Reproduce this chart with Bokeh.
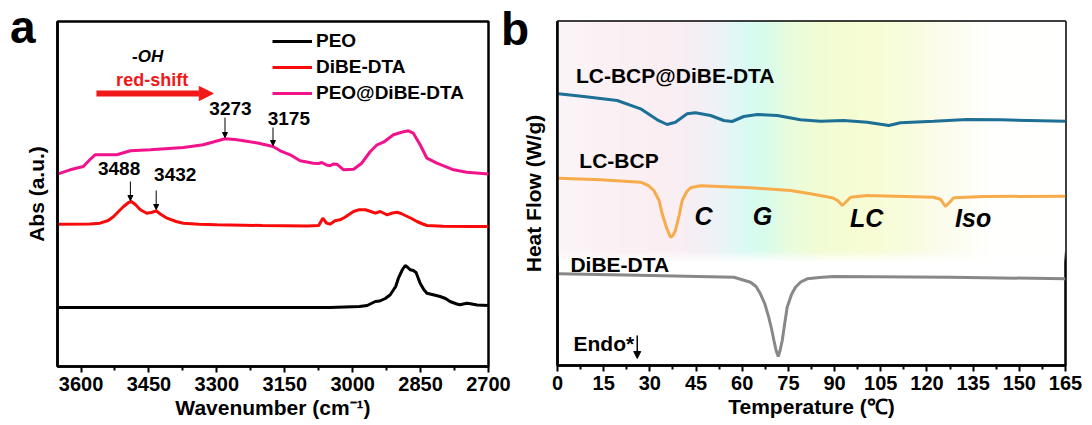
import numpy as np
from bokeh.plotting import figure
from bokeh.models import (Range1d, FixedTicker, Legend, LegendItem, Div,
                          Arrow, NormalHead)
from bokeh.layouts import row
from bokeh.embed import file_html
from bokeh.resources import INLINE
from bokeh.core.properties import value

FONT = "Liberation Sans"

# ---------------- Panel a : FTIR ----------------
peo_wn = [3650, 3400, 3200, 3050, 2985, 2968, 2950, 2940, 2928, 2917, 2905, 2899, 2890,
          2884, 2878, 2873, 2866, 2860, 2851, 2843, 2836, 2820, 2807, 2795, 2785, 2770,
          2763, 2748, 2740, 2725, 2700]
peo_abs = [0.59, 0.59, 0.59, 0.59, 0.60, 0.61, 0.65, 0.655, 0.68, 0.717, 0.80, 0.883, 0.97,
           1.01, 0.99, 0.967, 0.96, 0.94, 0.833, 0.77, 0.733, 0.715, 0.70, 0.68, 0.65, 0.625,
           0.617, 0.633, 0.627, 0.615, 0.61]

dibe_wn = [3650, 3580, 3558, 3540, 3528, 3515, 3506, 3495, 3489, 3480, 3469, 3455, 3445,
           3434, 3425, 3410, 3390, 3374, 3340, 3300, 3200, 3100, 3075, 3066, 3058, 3050,
           3039, 3028, 3018, 3009, 2998, 2987, 2972, 2960, 2950, 2939, 2930, 2924, 2912,
           2902, 2893, 2884, 2870, 2858, 2845, 2836, 2800, 2740, 2700]
dibe_abs = [1.423, 1.425, 1.433, 1.46, 1.50, 1.56, 1.60, 1.64, 1.65, 1.62, 1.567, 1.533, 1.54,
            1.557, 1.525, 1.483, 1.45, 1.433, 1.422, 1.417, 1.41, 1.405, 1.41, 1.483, 1.435,
            1.423, 1.457, 1.467, 1.49, 1.517, 1.55, 1.567, 1.567, 1.55, 1.533, 1.55, 1.53,
            1.517, 1.535, 1.543, 1.53, 1.51, 1.48, 1.45, 1.425, 1.41, 1.403, 1.40, 1.40]

mix_wn = [3650, 3646, 3624, 3595, 3580, 3569, 3543, 3521, 3491, 3447, 3374, 3330, 3300,
          3282, 3260, 3241, 3210, 3176, 3160, 3138, 3116, 3087, 3075, 3068, 3058, 3050,
          3043, 3035, 3020, 2998, 2980, 2961, 2946, 2932, 2910, 2890, 2877, 2866, 2851,
          2836, 2814, 2777, 2748, 2700]
mix_abs = [1.93, 1.933, 1.967, 2.00, 2.07, 2.117, 2.117, 2.117, 2.157, 2.167, 2.19, 2.217,
           2.255, 2.277, 2.27, 2.257, 2.235, 2.20, 2.157, 2.117, 2.057, 2.033, 2.03, 2.04,
           2.015, 2.007, 2.025, 2.023, 1.967, 1.973, 2.033, 2.15, 2.217, 2.243, 2.317,
           2.345, 2.357, 2.333, 2.217, 2.083, 2.033, 1.967, 1.943, 1.925]

wn_ticks = [3600, 3450, 3300, 3150, 3000, 2850, 2700]
wn_minor = [3525, 3375, 3225, 3075, 2925, 2775]

peak_labels = ["3488", "3432", "3273", "3175"]
peak_label_x = [3516, 3392, 3270, 3141]
peak_label_y = [1.983, 1.917, 2.58, 2.48]
peak_arrow_x = [3491, 3434, 3282, 3176]
peak_arrow_top = [1.85, 1.76, 2.49, 2.39]
peak_arrow_bot = [1.66, 1.57, 2.29, 2.21]

# ---------------- Panel b : DSC ----------------
blend_T = [0.3, 8.5, 19.4, 27, 32.4, 35.6, 38.3, 42.1, 44.8, 49.7, 54, 56.7, 60.5, 64.9,
           71.4, 78.9, 85.4, 93, 100.6, 107.6, 111.4, 122.2, 133, 143.9, 165]
blend_hf = [2.717, 2.69, 2.65, 2.567, 2.457, 2.41, 2.433, 2.517, 2.527, 2.50, 2.45, 2.44,
            2.49, 2.51, 2.50, 2.457, 2.443, 2.45, 2.433, 2.40, 2.427, 2.443, 2.46, 2.457, 2.443]

lcbcp_T = [0.3, 14, 27, 29.5, 31.3, 33, 34, 35.5, 36.7, 37.5, 38.3, 39.5, 40.5, 42, 43.2,
           46.4, 62.7, 75.7, 82.2, 87, 89.5, 91, 92.5, 93.5, 95.2, 100.6, 122.2, 124.5, 126,
           127.3, 128.7, 138.5, 165]
lcbcp_hf = [1.873, 1.857, 1.833, 1.80, 1.75, 1.65, 1.517, 1.37, 1.283, 1.30, 1.35, 1.50,
            1.65, 1.74, 1.777, 1.797, 1.777, 1.75, 1.717, 1.69, 1.675, 1.65, 1.60, 1.63,
            1.683, 1.70, 1.683, 1.66, 1.59, 1.63, 1.677, 1.69, 1.693]

dibe_T = [0.4, 30.2, 57.3, 62.7, 64.5, 65.9, 67.3, 68.6, 69.5, 70.3, 71, 71.7, 72.3, 73,
          73.8, 74.6, 76, 77.3, 79, 81.1, 85, 89.7, 127.6, 165]
dibe_hf = [0.917, 0.90, 0.883, 0.833, 0.79, 0.717, 0.62, 0.483, 0.37, 0.25, 0.15, 0.09,
           0.15, 0.25, 0.42, 0.583, 0.71, 0.783, 0.835, 0.867, 0.88, 0.89, 0.883, 0.867]

T_ticks = list(range(0, 166, 15))
T_minor = [7.5 + 15 * i for i in range(11)]

phase_labels = ["C", "G", "LC", "Iso"]
phase_x = [47.4, 66.6, 100.4, 135.0]
phase_y = [1.50, 1.50, 1.48, 1.48]

curve_names = ["LC-BCP@DiBE-DTA", "LC-BCP", "DiBE-DTA", "Endo*"]
curve_name_x = [6.0, 7.1, 4.2, 5.2]
curve_name_y = [2.90, 2.05, 1.01, 0.22]

panel_letters = ["a", "b"]

# background gradient colour stops (decoration)
grad_T = [0, 20, 38, 48, 56, 62, 68, 75, 85, 100, 115, 128, 140, 165]
grad_rgb = [(252, 245, 247), (251, 240, 244), (250, 238, 243), (243, 240, 246),
            (230, 246, 247), (216, 251, 243), (218, 252, 236), (232, 252, 222),
            (242, 252, 212), (247, 252, 212), (249, 252, 224), (252, 253, 240),
            (255, 255, 253), (255, 255, 255)]


def style(p, xlabel, ylabel, ylabel_standoff):
    p.grid.visible = False
    p.outline_line_color = "black"
    p.outline_line_width = 2.5
    p.outline_line_alpha = 1
    p.border_fill_color = None
    for ax in p.xaxis:
        ax.axis_line_width = 2.5
        ax.major_tick_line_width = 2
        ax.minor_tick_line_width = 2
        ax.major_tick_out = 6
        ax.major_tick_in = 0
        ax.minor_tick_out = 4
        ax.minor_tick_in = 0
        ax.major_label_text_font = FONT
        ax.major_label_text_font_size = "20px"
        ax.major_label_text_font_style = "bold"
        ax.major_label_text_color = "black"
        ax.major_label_standoff = 4
        ax.axis_label = xlabel
        ax.axis_label_text_font = FONT
        ax.axis_label_text_font_size = "21px"
        ax.axis_label_text_font_style = "bold"
        ax.axis_label_text_color = "black"
        ax.axis_label_standoff = 2
    for ax in p.yaxis:
        ax.ticker = FixedTicker(ticks=[])
        ax.axis_line_width = 2.5
        ax.major_tick_out = 0
        ax.minor_tick_out = 0
        ax.major_label_text_font_size = "0px"
        ax.axis_label = ylabel
        ax.axis_label_text_font = FONT
        ax.axis_label_text_font_size = "21px"
        ax.axis_label_text_font_style = "bold"
        ax.axis_label_text_color = "black"
        ax.axis_label_standoff = ylabel_standoff


def letter_div(txt, left, top):
    html = ('<div style="font-family:\'Liberation Sans\',Arial,sans-serif;'
            'font-weight:bold;font-size:46px;line-height:46px;color:black;'
            'margin:0;padding:0;">%s</div>' % txt)
    return Div(text=html, width=40, height=60,
               margin=(top, -(40 + left), 0, left))


# ---------- figure a ----------
pa = figure(frame_width=431, frame_height=345, output_backend="svg", toolbar_location=None,
            x_range=Range1d(3652, 2700), y_range=Range1d(0, 3.45),
            min_border_left=57, min_border_right=24, min_border_top=20, min_border_bottom=60,
            margin=(0, -12, 0, 0))
style(pa, "Wavenumber (cm\u207b\u00b9)", "Abs (a.u.)", 10)
pa.xaxis.ticker = FixedTicker(ticks=wn_ticks, minor_ticks=wn_minor)

r_peo = pa.line(peo_wn, peo_abs, line_color="black", line_width=3)
r_dibe = pa.line(dibe_wn, dibe_abs, line_color="#f80a0a", line_width=3)
r_mix = pa.line(mix_wn, mix_abs, line_color="#f2128c", line_width=3)

leg = Legend(items=[LegendItem(label="PEO", renderers=[r_peo]),
                    LegendItem(label="DiBE-DTA", renderers=[r_dibe]),
                    LegendItem(label="PEO@DiBE-DTA", renderers=[r_mix])],
             location=(215, 260), padding=0, margin=0, spacing=0,
             glyph_width=40, glyph_height=26, label_height=26, label_standoff=4,
             border_line_color=None, background_fill_alpha=0,
             label_text_font=FONT, label_text_font_size="19px",
             label_text_font_style="bold", label_text_color="black")
pa.add_layout(leg)

pa.text(x=peak_label_x, y=peak_label_y, text=peak_labels, text_font=value(FONT),
        text_font_size="19px", text_font_style="bold", text_color="black",
        text_align="center", text_baseline="middle")
for xa, yt, yb in zip(peak_arrow_x, peak_arrow_top, peak_arrow_bot):
    pa.add_layout(Arrow(end=NormalHead(size=5, fill_color="black", line_color="black"),
                        x_start=xa, y_start=yt, x_end=xa, y_end=yb,
                        line_color="black", line_width=1))

pa.text(x=[3453], y=[3.10], text=["-OH"], text_font=value(FONT), text_font_size="17px",
        text_font_style="bold italic", text_color="black", text_align="center",
        text_baseline="middle")
pa.text(x=[3443], y=[2.87], text=["red-shift"], text_font=value(FONT),
        text_font_size="18px", text_font_style="bold", text_color="#f01818",
        text_align="center", text_baseline="middle")
pa.add_layout(Arrow(end=NormalHead(size=14, fill_color="#f01818", line_color="#f01818"),
                    x_start=3566, y_start=2.73, x_end=3308, y_end=2.73,
                    line_color="#f01818", line_width=6))

# ---------- figure b ----------
pb = figure(frame_width=508, frame_height=344, output_backend="svg", toolbar_location=None,
            x_range=Range1d(0, 165), y_range=Range1d(0, 3.44),
            min_border_left=57, min_border_right=27, min_border_top=21, min_border_bottom=60)
style(pb, "Temperature (\u2103)", "Heat Flow (W/g)", 13)
pb.xaxis.ticker = FixedTicker(ticks=T_ticks, minor_ticks=T_minor)

# gradient background
nx, ny = 330, 120
y0, y1 = 1.02, 3.44
xs = np.linspace(0, 165, nx)
img = np.empty((ny, nx), dtype=np.uint32)
view = img.view(dtype=np.uint8).reshape((ny, nx, 4))
rgb = np.array(grad_rgb, dtype=float)
for c in range(3):
    view[:, :, c] = np.interp(xs, grad_T, rgb[:, c])[None, :].astype(np.uint8)
ys = np.linspace(y0, y1, ny)
alpha = np.clip((ys - y0) / 0.12, 0, 1) * 255
view[:, :, 3] = alpha[:, None].astype(np.uint8)
pb.image_rgba(image=[img], x=0, y=y0, dw=165, dh=y1 - y0)

pb.line(blend_T, blend_hf, line_color="#1d6f96", line_width=3)
pb.line(lcbcp_T, lcbcp_hf, line_color="#f8ab4a", line_width=3)
pb.line(dibe_T, dibe_hf, line_color="#888888", line_width=3)

pb.text(x=curve_name_x, y=curve_name_y, text=curve_names, text_font=value(FONT),
        text_font_size="21px", text_font_style="bold", text_color="black",
        text_align="left", text_baseline="middle")
pb.text(x=phase_x, y=phase_y, text=phase_labels, text_font=value(FONT),
        text_font_size="25px", text_font_style="bold italic", text_color="black",
        text_align="center", text_baseline="middle")
pb.add_layout(Arrow(end=NormalHead(size=7, fill_color="black", line_color="black"),
                    x_start=25.9, y_start=0.30, x_end=25.9, y_end=0.07,
                    line_color="black", line_width=1.5))

div_a = letter_div(panel_letters[0], 10, 4)
div_b = letter_div(panel_letters[1], 1, 6)

layout = row(div_a, pa, div_b, pb)
open("out.html", "w").write(file_html(layout, INLINE))
